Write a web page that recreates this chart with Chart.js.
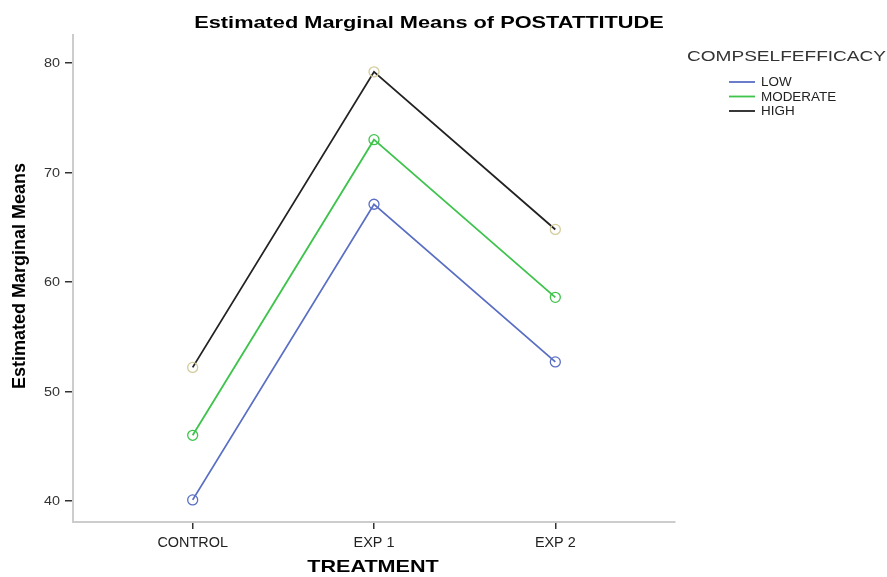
<!DOCTYPE html>
<html>
<head>
<meta charset="utf-8">
<script src="https://cdn.jsdelivr.net/npm/chart.js@4/dist/chart.umd.min.js"></script>
<style>
  html, body { margin: 0; padding: 0; background: #fff; }
  #wrap { width: 887px; height: 577px; position: relative; }
</style>
</head>
<body>
<div id="wrap"><canvas id="chart"></canvas></div>
<script>
// categories on the x axis
var treatments = ['CONTROL', 'EXP 1', 'EXP 2'];
// series
var lowMeans = [40.1, 67.1, 52.7];
var moderateMeans = [46.0, 73.0, 58.6];
var highMeans = [52.2, 79.2, 64.8];
var yTicks = [40, 50, 60, 70, 80];

var FONT = '"Liberation Sans", Arial, sans-serif';

function toPoints(values) {
    return values.map(function (v, i) { return { x: i, y: v }; });
}

function series(label, values, color, markerColor) {
    return {
        label: label,
        data: toPoints(values),
        borderColor: color,
        borderWidth: 1.8,
        pointRadius: 5,
        pointHoverRadius: 5,
        pointBorderWidth: 1.3,
        pointBorderColor: markerColor || color,
        pointBackgroundColor: 'rgba(0,0,0,0)',
        tension: 0
    };
}

// the source picture is stretched sideways, so text gets a horizontal scale
function text(c, str, x, y, font, sx, align, color) {
    c.save();
    c.translate(x, y);
    c.scale(sx, 1);
    c.font = font;
    c.textAlign = align;
    c.textBaseline = 'middle';
    c.fillStyle = color;
    c.fillText(str, 0, 0);
    c.restore();
}

var decorations = {
    id: 'decorations',
    afterDraw: function (chart) {
        var c = chart.ctx;
        var xs = chart.scales.x, ys = chart.scales.y;

        // tick labels, placed through the chart's scales
        yTicks.forEach(function (v) {
            text(c, String(v), 60, ys.getPixelForValue(v) + 1, '12px ' + FONT, 1.2, 'right', '#333');
        });
        treatments.forEach(function (t, i) {
            text(c, t, xs.getPixelForValue(i), 543, '14px ' + FONT, 1.03, 'center', '#222');
        });

        text(c, 'Estimated Marginal Means of POSTATTITUDE', 429, 23, 'bold 17px ' + FONT, 1.28, 'center', '#000');
        text(c, 'TREATMENT', 373, 567, 'bold 17px ' + FONT, 1.27, 'center', '#000');

        c.save();
        c.translate(20, 276);
        c.rotate(-Math.PI / 2);
        text(c, 'Estimated Marginal Means', 0, 0, 'bold 18px ' + FONT, 1.0, 'center', '#000');
        c.restore();

        // legend
        text(c, 'COMPSELFEFFICACY', 687, 57, '15px ' + FONT, 1.27, 'left', '#333');
        chart.data.datasets.forEach(function (ds, i) {
            var y = 82 + i * 14.5;
            c.save();
            c.strokeStyle = ds.borderColor;
            c.lineWidth = 1.8;
            c.beginPath();
            c.moveTo(729, y);
            c.lineTo(755, y);
            c.stroke();
            c.restore();
            text(c, ds.label, 761, y + 1, '12px ' + FONT, 1.12, 'left', '#222');
        });
    }
};

var ctx = document.getElementById('chart').getContext('2d');
var chart = new Chart(ctx, {
    type: 'line',
    data: {
        datasets: [
            series('LOW', lowMeans, '#5a6fc4'),
            series('MODERATE', moderateMeans, '#3ec44c'),
            series('HIGH', highMeans, '#222222', '#d4cc9c')
        ]
    },
    options: {
        responsive: true,
        maintainAspectRatio: false,
        animation: false,
        layout: { padding: { left: 0, top: 35, right: 212, bottom: 0 } },
        plugins: {
            legend: { display: false },
            title: { display: false },
            tooltip: { enabled: false }
        },
        scales: {
            x: {
                type: 'linear',
                min: -0.66,
                max: 2.66,
                afterBuildTicks: function (scale) {
                    scale.ticks = treatments.map(function (t, i) { return { value: i }; });
                },
                afterFit: function (scale) { scale.height = 55; },
                ticks: { display: false },
                grid: { drawOnChartArea: false, drawTicks: true, tickLength: 7, color: '#333', lineWidth: 1.5 },
                border: { color: '#cccccc', width: 2 }
            },
            y: {
                min: 38.08,
                max: 82.56,
                afterBuildTicks: function (scale) {
                    scale.ticks = yTicks.map(function (v) { return { value: v }; });
                },
                afterFit: function (scale) { scale.width = 73; },
                ticks: { display: false },
                grid: { drawOnChartArea: false, drawTicks: true, tickLength: 8, color: '#333', lineWidth: 1.5 },
                border: { color: '#cccccc', width: 2 }
            }
        }
    },
    plugins: [decorations]
});
</script>
</body>
</html>
